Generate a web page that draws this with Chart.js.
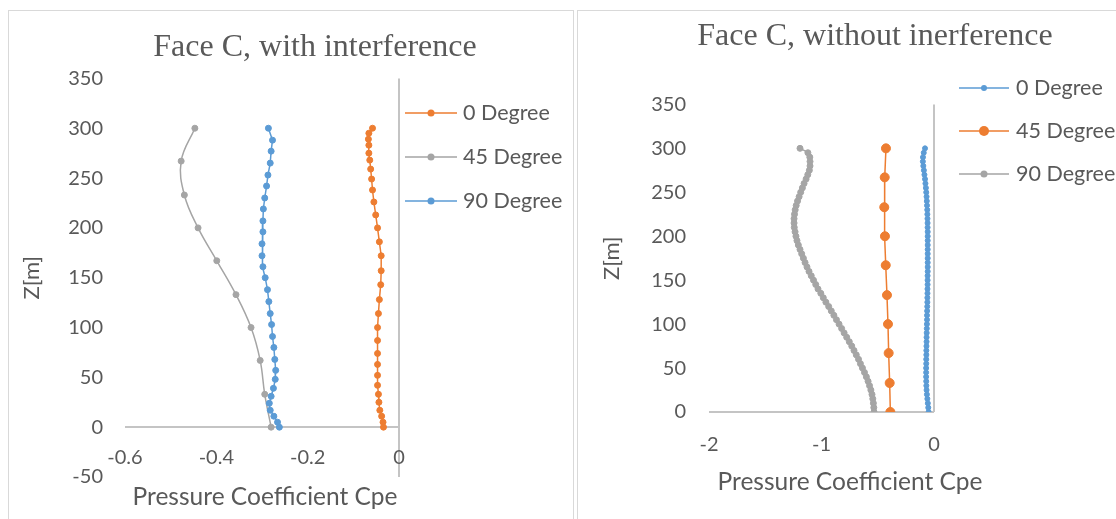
<!DOCTYPE html>
<html>
<head>
<meta charset="utf-8">
<title>Face C pressure coefficient</title>
<script src="https://cdn.jsdelivr.net/npm/chart.js@4.4.1/dist/chart.umd.min.js"></script>
<style>
  html, body { margin: 0; padding: 0; background: #fff; overflow: hidden; width: 1116px; height: 519px; }
  .panel { position: absolute; border: 1px solid #d9d9d9; box-sizing: border-box; }
  canvas { position: absolute; }
</style>
</head>
<body>
<div class="panel" style="left:8px; top:10px; width:566px; height:540px;"></div>
<div class="panel" style="left:577px; top:10px; width:560px; height:540px;"></div>
<canvas id="leftChart" width="630" height="519" style="left:0; top:0;"></canvas>
<canvas id="rightChart" width="570" height="519" style="left:590px; top:0;"></canvas>
<script>
// ---- Face C, with interference ----
const leftZ0   = [300, 295, 289, 283, 275, 268, 259, 249, 238, 226, 213, 200, 186, 172, 157, 143, 128, 114, 100, 87, 74, 63, 52, 42, 33, 25, 17, 11, 5, 0];
const leftCpe0 = [-0.058, -0.066, -0.067, -0.066, -0.066, -0.064, -0.062, -0.060, -0.058, -0.055, -0.051, -0.047, -0.043, -0.039, -0.039,
                  -0.040, -0.043, -0.045, -0.047, -0.047, -0.047, -0.047, -0.047, -0.047, -0.045, -0.044, -0.042, -0.038, -0.035, -0.034];
const leftZ45   = [300, 267, 233, 200, 167, 133, 100, 67, 33, 0];
const leftCpe45 = [-0.447, -0.477, -0.470, -0.440, -0.399, -0.357, -0.324, -0.304, -0.294, -0.280];
const leftZ90   = [300, 288, 277, 265, 253, 242, 230, 219, 207, 196, 184, 172, 161, 150, 138, 126, 114, 103, 91, 80, 68, 57, 48, 39, 31, 24, 17, 11, 5, 0];
const leftCpe90 = [-0.286, -0.277, -0.280, -0.282, -0.287, -0.290, -0.294, -0.297, -0.298, -0.298, -0.300, -0.300, -0.298, -0.293, -0.288,
                   -0.285, -0.282, -0.279, -0.277, -0.274, -0.272, -0.270, -0.271, -0.275, -0.280, -0.284, -0.282, -0.274, -0.266, -0.262];
const leftXTicks = [-0.6, -0.4, -0.2, 0];
const leftYTicks = [-50, 0, 50, 100, 150, 200, 250, 300, 350];

// ---- Face C, without inerference ----
const rightZ = [300, 295, 290, 285, 280, 275, 270, 265, 260, 255, 250, 245, 240, 235, 230, 225, 220, 215, 210, 205, 200,
                195, 190, 185, 180, 175, 170, 165, 160, 155, 150, 145, 140, 135, 130, 125, 120, 115, 110, 105, 100,
                95, 90, 85, 80, 75, 70, 65, 60, 55, 50, 45, 40, 35, 30, 25, 20, 15, 10, 5, 0];
const rightCpe0 = [-0.080, -0.091, -0.098, -0.099, -0.095, -0.090, -0.085, -0.080, -0.076, -0.072, -0.069, -0.066, -0.064, -0.062, -0.060,
                   -0.059, -0.058, -0.057, -0.057, -0.056, -0.056, -0.056, -0.056, -0.056, -0.056, -0.056, -0.056, -0.056, -0.056, -0.057,
                   -0.057, -0.057, -0.058, -0.058, -0.059, -0.059, -0.060, -0.061, -0.062, -0.062, -0.063, -0.064, -0.065, -0.066, -0.066,
                   -0.067, -0.068, -0.068, -0.069, -0.069, -0.070, -0.070, -0.070, -0.069, -0.068, -0.066, -0.063, -0.059, -0.055, -0.051, -0.048];
const rightZ45   = [300, 267, 233, 200, 167, 133, 100, 67, 33, 0];
const rightCpe45 = [-0.427, -0.438, -0.442, -0.436, -0.429, -0.418, -0.409, -0.403, -0.394, -0.388];
const rightCpe90 = [-1.191, -1.121, -1.104, -1.102, -1.102, -1.108, -1.122, -1.137, -1.155, -1.170, -1.185, -1.199, -1.213, -1.225, -1.234,
                    -1.240, -1.244, -1.244, -1.242, -1.235, -1.227, -1.218, -1.206, -1.191, -1.176, -1.161, -1.146, -1.129, -1.111, -1.091,
                    -1.071, -1.051, -1.031, -1.006, -0.984, -0.961, -0.936, -0.913, -0.890, -0.867, -0.844, -0.821, -0.799, -0.776, -0.753,
                    -0.731, -0.711, -0.691, -0.671, -0.654, -0.636, -0.618, -0.601, -0.586, -0.573, -0.561, -0.551, -0.544, -0.539, -0.535, -0.533];
const rightXTicks = [-2, -1, 0];
const rightYTicks = [0, 50, 100, 150, 200, 250, 300, 350];

const ORANGE = '#ED7D31', GRAY = '#A5A5A5', BLUE = '#5B9BD5', TEXT = '#595959', AXIS = '#c4c4c4';
const X_TITLE = 'Pressure Coefficient Cpe';

Chart.defaults.font.family = 'Lato';
Chart.defaults.color = TEXT;

function pts(xs, ys) {
  return xs.map((x, i) => ({ x: x, y: ys[i] }));
}

function series(label, color, xs, ys, radius, tension, order) {
  return {
    label: label,
    data: pts(xs, ys),
    showLine: true,
    borderColor: color,
    backgroundColor: color,
    borderWidth: 1.5,
    pointRadius: radius,
    pointBackgroundColor: color,
    pointBorderColor: color,
    pointBorderWidth: 1,
    tension: tension,
    order: order
  };
}

// legend drawn as Excel does it (short line, marker in the middle),
// plus the x axis title, which Excel centres a bit off the plot area
const excelBits = {
  id: 'excelBits',
  afterDraw(chart, args, opts) {
    const ctx = chart.ctx;
    const lg = opts.legend;
    ctx.save();
    ctx.font = lg.fontSize + 'px Lato';
    ctx.textBaseline = 'middle';
    ctx.textAlign = 'left';
    chart.data.datasets.forEach((ds, i) => {
      const y = lg.top + i * lg.gap;
      ctx.strokeStyle = ds.borderColor;
      ctx.lineWidth = ds.borderWidth;
      ctx.beginPath();
      ctx.moveTo(lg.left, y);
      ctx.lineTo(lg.left + lg.lineLength, y);
      ctx.stroke();
      ctx.fillStyle = ds.pointBackgroundColor;
      ctx.beginPath();
      ctx.arc(lg.left + lg.lineLength / 2, y, ds.pointRadius + 0.5, 0, Math.PI * 2);
      ctx.fill();
      ctx.fillStyle = TEXT;
      ctx.fillText(ds.label, lg.left + lg.lineLength + lg.textGap, y);
    });
    const xt = opts.xTitle;
    ctx.font = xt.fontSize + 'px Lato';
    ctx.textAlign = 'center';
    ctx.fillStyle = TEXT;
    ctx.fillText(xt.text, xt.x, xt.y);
    ctx.restore();
  }
};

function zeroLine(c) {
  return c.tick && c.tick.value === 0 ? AXIS : 'rgba(0,0,0,0)';
}

function makeChart(id, o) {
  return new Chart(document.getElementById(id), {
    type: 'scatter',
    data: { datasets: o.datasets },
    plugins: [excelBits],
    options: {
      responsive: false,
      animation: false,
      events: [],
      layout: { padding: { left: 0, top: 0, right: 0, bottom: o.padBottom } },
      plugins: {
        legend: { display: false },
        tooltip: { enabled: false },
        title: {
          display: true,
          text: o.title,
          color: TEXT,
          font: { family: 'Liberation Serif', size: 32, weight: 'normal' },
          padding: { top: o.titleTop, bottom: o.titleBottom }
        },
        excelBits: { legend: o.legend, xTitle: o.xTitle }
      },
      scales: {
        x: {
          type: 'linear',
          position: { y: 0 },
          min: o.xTicks[0],
          max: o.xTicks[o.xTicks.length - 1],
          afterBuildTicks: s => { s.ticks = o.xTicks.map(v => ({ value: v })); },
          ticks: { padding: o.xTickPad, font: { size: 20 }, callback: v => String(v) },
          grid: { drawTicks: false, lineWidth: 2, color: zeroLine },
          border: { display: false }
        },
        y: {
          type: 'linear',
          position: 'left',
          min: o.yTicks[0],
          max: o.yTicks[o.yTicks.length - 1],
          afterBuildTicks: s => { s.ticks = o.yTicks.map(v => ({ value: v })); },
          afterFit: s => { s.width = o.yWidth; },
          ticks: { padding: o.yTickPad, font: { size: 20 }, callback: v => String(v) },
          grid: { drawTicks: false, lineWidth: 2, color: zeroLine },
          border: { display: false },
          title: { display: true, text: 'Z[m]', font: { size: 22 }, padding: { top: o.yTitlePad, bottom: 0 } }
        },
        // empty scale on the right that keeps room for the legend
        legendSpace: {
          type: 'linear',
          axis: 'y',
          position: 'right',
          grid: { display: false },
          ticks: { display: false },
          border: { display: false },
          afterFit: s => { s.width = o.rightSpace; }
        }
      }
    }
  });
}

makeChart('leftChart', {
  title: 'Face C, with interference',
  titleTop: 28, titleBottom: 12,
  rightSpace: 231, padBottom: 42,
  xTicks: leftXTicks, yTicks: leftYTicks,
  xTickPad: 18,
  yWidth: 125, yTickPad: 22, yTitlePad: 19,
  legend: { left: 405, top: 113, gap: 44, lineLength: 52, textGap: 6, fontSize: 21.5 },
  xTitle: { text: X_TITLE, x: 265, y: 497, fontSize: 24.5 },
  datasets: [
    series('0 Degree', ORANGE, leftCpe0, leftZ0, 3, 0, 2),
    series('45 Degree', GRAY, leftCpe45, leftZ45, 3, 0.4, 1),
    series('90 Degree', BLUE, leftCpe90, leftZ90, 3, 0, 0)
  ]
});

makeChart('rightChart', {
  title: 'Face C, without inerference',
  titleTop: 17, titleBottom: 49,
  rightSpace: 226, padBottom: 107,
  xTicks: rightXTicks, yTicks: rightYTicks,
  xTickPad: 21,
  yWidth: 119, yTickPad: 23, yTitlePad: 9,
  legend: { left: 369, top: 88, gap: 43, lineLength: 50, textGap: 7, fontSize: 21.5 },
  xTitle: { text: X_TITLE, x: 260, y: 482, fontSize: 24.5 },
  datasets: [
    series('0 Degree', BLUE, rightCpe0, rightZ, 2.5, 0, 2),
    series('45 Degree', ORANGE, rightCpe45, rightZ45, 4.5, 0, 1),
    series('90 Degree', GRAY, rightCpe90, rightZ, 3, 0.4, 0)
  ]
});
</script>
</body>
</html>
